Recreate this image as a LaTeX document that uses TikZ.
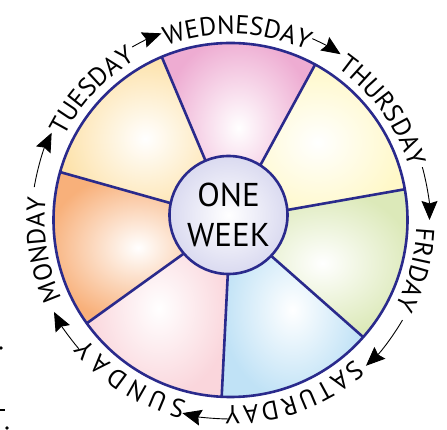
\documentclass[tikz,border=0pt]{standalone}
\usepackage{fontspec}
\setmainfont{PT Sans}
\usepackage{tikz}
\usetikzlibrary{arrows.meta,decorations.text}
\definecolor{rimblue}{RGB}{42,42,140}
\definecolor{wedpink}{RGB}{238,172,210}
\definecolor{thuyellow}{RGB}{255,248,200}
\definecolor{frigreen}{RGB}{220,233,185}
\definecolor{satblue}{RGB}{192,226,246}
\definecolor{sunpink}{RGB}{250,214,220}
\definecolor{monorange}{RGB}{248,176,122}
\definecolor{tueyellow}{RGB}{253,226,170}
\definecolor{hublilac}{RGB}{218,218,240}
\newcommand\dayfont{\fontsize{26}{26}\selectfont}

\begin{document}
\begin{tikzpicture}[x=1pt, y=1pt,
    sector/.style={shade, inner color=white, outer color=#1},
    rim/.style={draw=rimblue, line width=2.6pt},
    hub/.style={circle, rim, shade, inner color=white, outer color=hublilac, minimum size=118pt, inner sep=0pt, align=center, font=\fontsize{33}{40}\selectfont},
    dayarrow/.style={line width=0.9pt, arrows={-Stealth[length=19pt,width=16pt,inset=2.5pt]}},
    daytext/.style={decorate, decoration={text along path, text={|\dayfont|#1}, text align=center}}
]
    \useasboundingbox (-230.5,-210) rectangle (216.5,220);

    % Sectors
    \foreach \clr [count=\k from 0] in {thuyellow,wedpink,tueyellow,monorange,sunpink,satblue,frigreen}{
        \pgfmathsetmacro\a{10+\k*360/7}
        \pgfmathsetmacro\b{\a+360/7}
        \path[sector=\clr] (0,0) -- (\a:177) arc[start angle=\a, end angle=\b, radius=177pt] -- cycle;
    }
    \foreach \k in {0,...,6}
        \draw[rim] (0,0) -- ({10+\k*360/7}:177);
    \draw[rim] (0,0) circle[radius=177pt];

    % Centre
    \node[hub] (hub) at (-2,5) {ONE\\WEEK};

    % Days
    \path[daytext=WEDNESDAY] (118:186) arc[start angle=118, end angle=58, radius=186pt];
    \path[daytext=THURSDAY] (65.7:186) arc[start angle=65.7, end angle=5.7, radius=186pt];
    \path[daytext=FRIDAY] (15:186) arc[start angle=15, end angle=-45, radius=186pt];
    \path[daytext={{S\kern2.5pt}{A\kern2.5pt}{T\kern2.5pt}{U\kern2.5pt}{R\kern2.5pt}{D\kern2.5pt}{A\kern2.5pt}Y}] (-40:186) arc[start angle=-40, end angle=-100, radius=186pt];
    \path[daytext={{S\kern5pt}{U\kern5pt}{N\kern5pt}{D\kern5pt}{A\kern5pt}Y}] (268:186) arc[start angle=268, end angle=208, radius=186pt];
    \path[daytext=MONDAY] (219:186) arc[start angle=219, end angle=159, radius=186pt];
    \path[daytext=TUESDAY] (167:186) arc[start angle=167, end angle=107, radius=186pt];

    % Arrows
    \draw[dayarrow] (170.5:199) arc[start angle=170.5, end angle=154, radius=199pt];
    \draw[dayarrow] (119.6:199) arc[start angle=119.6, end angle=110.3, radius=199pt];
    \draw[dayarrow] (65.7:199) arc[start angle=65.7, end angle=56.4, radius=199pt];
    \draw[dayarrow] (15.4:199) arc[start angle=15.4, end angle=0, radius=199pt];
    \draw[dayarrow] (-30.2:199) arc[start angle=-30.2, end angle=-47.1, radius=199pt];
    \draw[dayarrow] (-90.7:199) arc[start angle=-90.7, end angle=-104, radius=199pt];
    \draw[dayarrow] (-139.7:199) arc[start angle=-139.7, end angle=-152.5, radius=199pt];

    % Stray marks
    \fill (-229.5,-128) circle[radius=1.8pt];
    \fill (-230.5,-191.5) rectangle (-225.5,-189);
    \fill (-223.5,-208) circle[radius=1.8pt];
\end{tikzpicture}
\end{document}
